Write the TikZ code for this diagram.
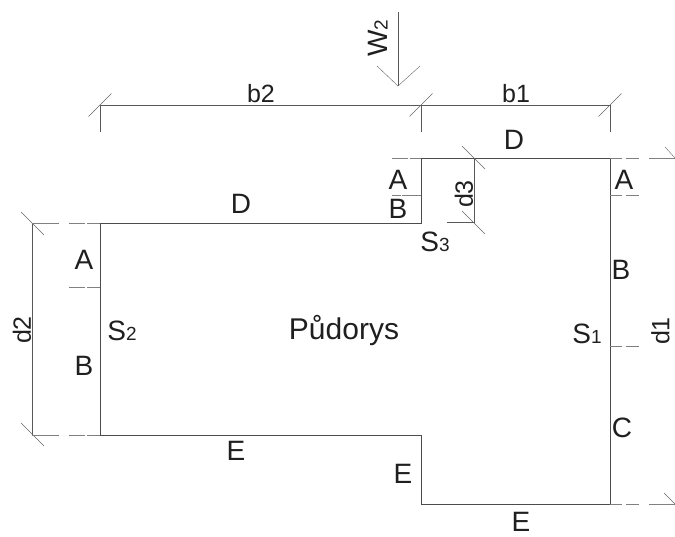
\documentclass[tikz,border=0pt]{standalone}
\usepackage{fontspec}
\setmainfont{Liberation Sans}
\newcommand{\lbl}{\fontsize{28}{30}\selectfont}
\newcommand{\lbldim}{\fontsize{25}{27}\selectfont}
\newcommand{\lblbig}{\fontsize{30}{32}\selectfont}
\newcommand{\lblsub}[1]{{\fontsize{19}{20}\selectfont #1}}
\tikzset{
  x=1pt,y=-1pt,
  wall/.style={draw=black!70,line width=0.8pt},
  dimline/.style={draw=black!65,line width=0.65pt},
  tick/.style={draw=black!60,line width=0.4pt},
  axisline/.style={draw=black!50,line width=0.8pt},
  tx/.style={inner sep=0pt,font=\lbl,text=black!88},
  txdim/.style={inner sep=0pt,font=\lbldim,text=black!88},
}
\begin{document}
\begin{tikzpicture}
\useasboundingbox (0,0) rectangle (675,536);
% building outline
\draw[wall] (100,223) -- (421,223) -- (421,158) -- (610,158) -- (610,504) -- (421,504) -- (421,435) -- (100,435) -- cycle;
% top dimension
\draw[dimline] (100,105) -- (610,105);
\draw[dimline] (100,105) -- (100,132);
\draw[dimline] (421,105) -- (421,132);
\draw[dimline] (610,105) -- (610,132);
\foreach \x in {100,421,610} \draw[tick] (\x-11.5,105+11.5) -- (\x+11.5,105-11.5);
% d3
\draw[dimline] (474,158) -- (474,222.5) -- (447,222.5);
\draw[tick] (462,146) -- (485,169);
\draw[tick] (462,211) -- (485,234);
% d2
\draw[dimline] (32,223) -- (32,435);
\draw[tick] (21,212) -- (44,235);
\draw[tick] (21,423) -- (44,446);
% dashed axis lines, left
\foreach \y in {223,435} {
  \draw[axisline] (32,\y) -- (59,\y);
  \draw[axisline] (69,\y) -- (85,\y);
  \draw[axisline] (87,\y) -- (100,\y);
}
\draw[axisline] (69,287) -- (85,287);
\draw[axisline] (87,287) -- (100,287);
% dashed axis lines, upper middle
\draw[axisline] (392,158) -- (408,158);
\draw[axisline] (410,158) -- (421,158);
\draw[axisline] (392,195) -- (401,195);
\draw[axisline] (402,195) -- (421,195);
% dashed axis lines, right
\foreach \y in {158,504} {
  \draw[axisline] (610,\y) -- (622,\y);
  \draw[axisline] (626,\y) -- (639,\y);
  \draw[axisline] (649,\y) -- (675,\y);
}
\foreach \y in {195,346} {
  \draw[axisline] (610,\y) -- (622,\y);
  \draw[axisline] (626,\y) -- (639,\y);
}
\draw[tick] (665,147) -- (675,158);
\draw[tick] (664,493) -- (675,504);
% wind arrow
\draw[dimline] (398,12) -- (398,86);
\draw[tick] (377,66) -- (398,86) -- (420,66);
% texts
\node[tx] (w) at (378,38) {\rotatebox{90}{W\lblsub{2}}};
\node[txdim] (b2) at (261,94) {b2};
\node[txdim] (b1) at (516,94) {b1};
\node[tx] (d1top) at (514,140) {D};
\node[tx] (d1left) at (241,204) {D};
\node[tx] (a3) at (398,180) {A};
\node[tx] (b3) at (398,209) {B};
\node[tx] (s3) at (435,242) {S\lblsub{3}};
\node[txdim] (d3) at (464,194) {\rotatebox{90}{d3}};
\node[tx] (a1) at (624,180) {A};
\node[tx] (b1r) at (621,270) {B};
\node[tx] (s1) at (587,334) {S\lblsub{1}};
\node[txdim] (d1) at (660.5,331) {\rotatebox{90}{d1}};
\node[tx] (c1) at (622,428) {C};
\node[tx] (s2) at (122,331) {S\lblsub{2}};
\node[inner sep=0pt,font=\lblbig,text=black!88] (pud) at (344,331) {Půdorys};
\node[tx] (a2) at (84,260) {A};
\node[tx] (b2l) at (84,366) {B};
\node[txdim] (d2) at (22,330) {\rotatebox{90}{d2}};
\node[tx] (e1) at (236,451) {E};
\node[tx] (e2) at (403,474) {E};
\node[tx] (e3) at (521,522) {E};
\end{tikzpicture}
\end{document}
